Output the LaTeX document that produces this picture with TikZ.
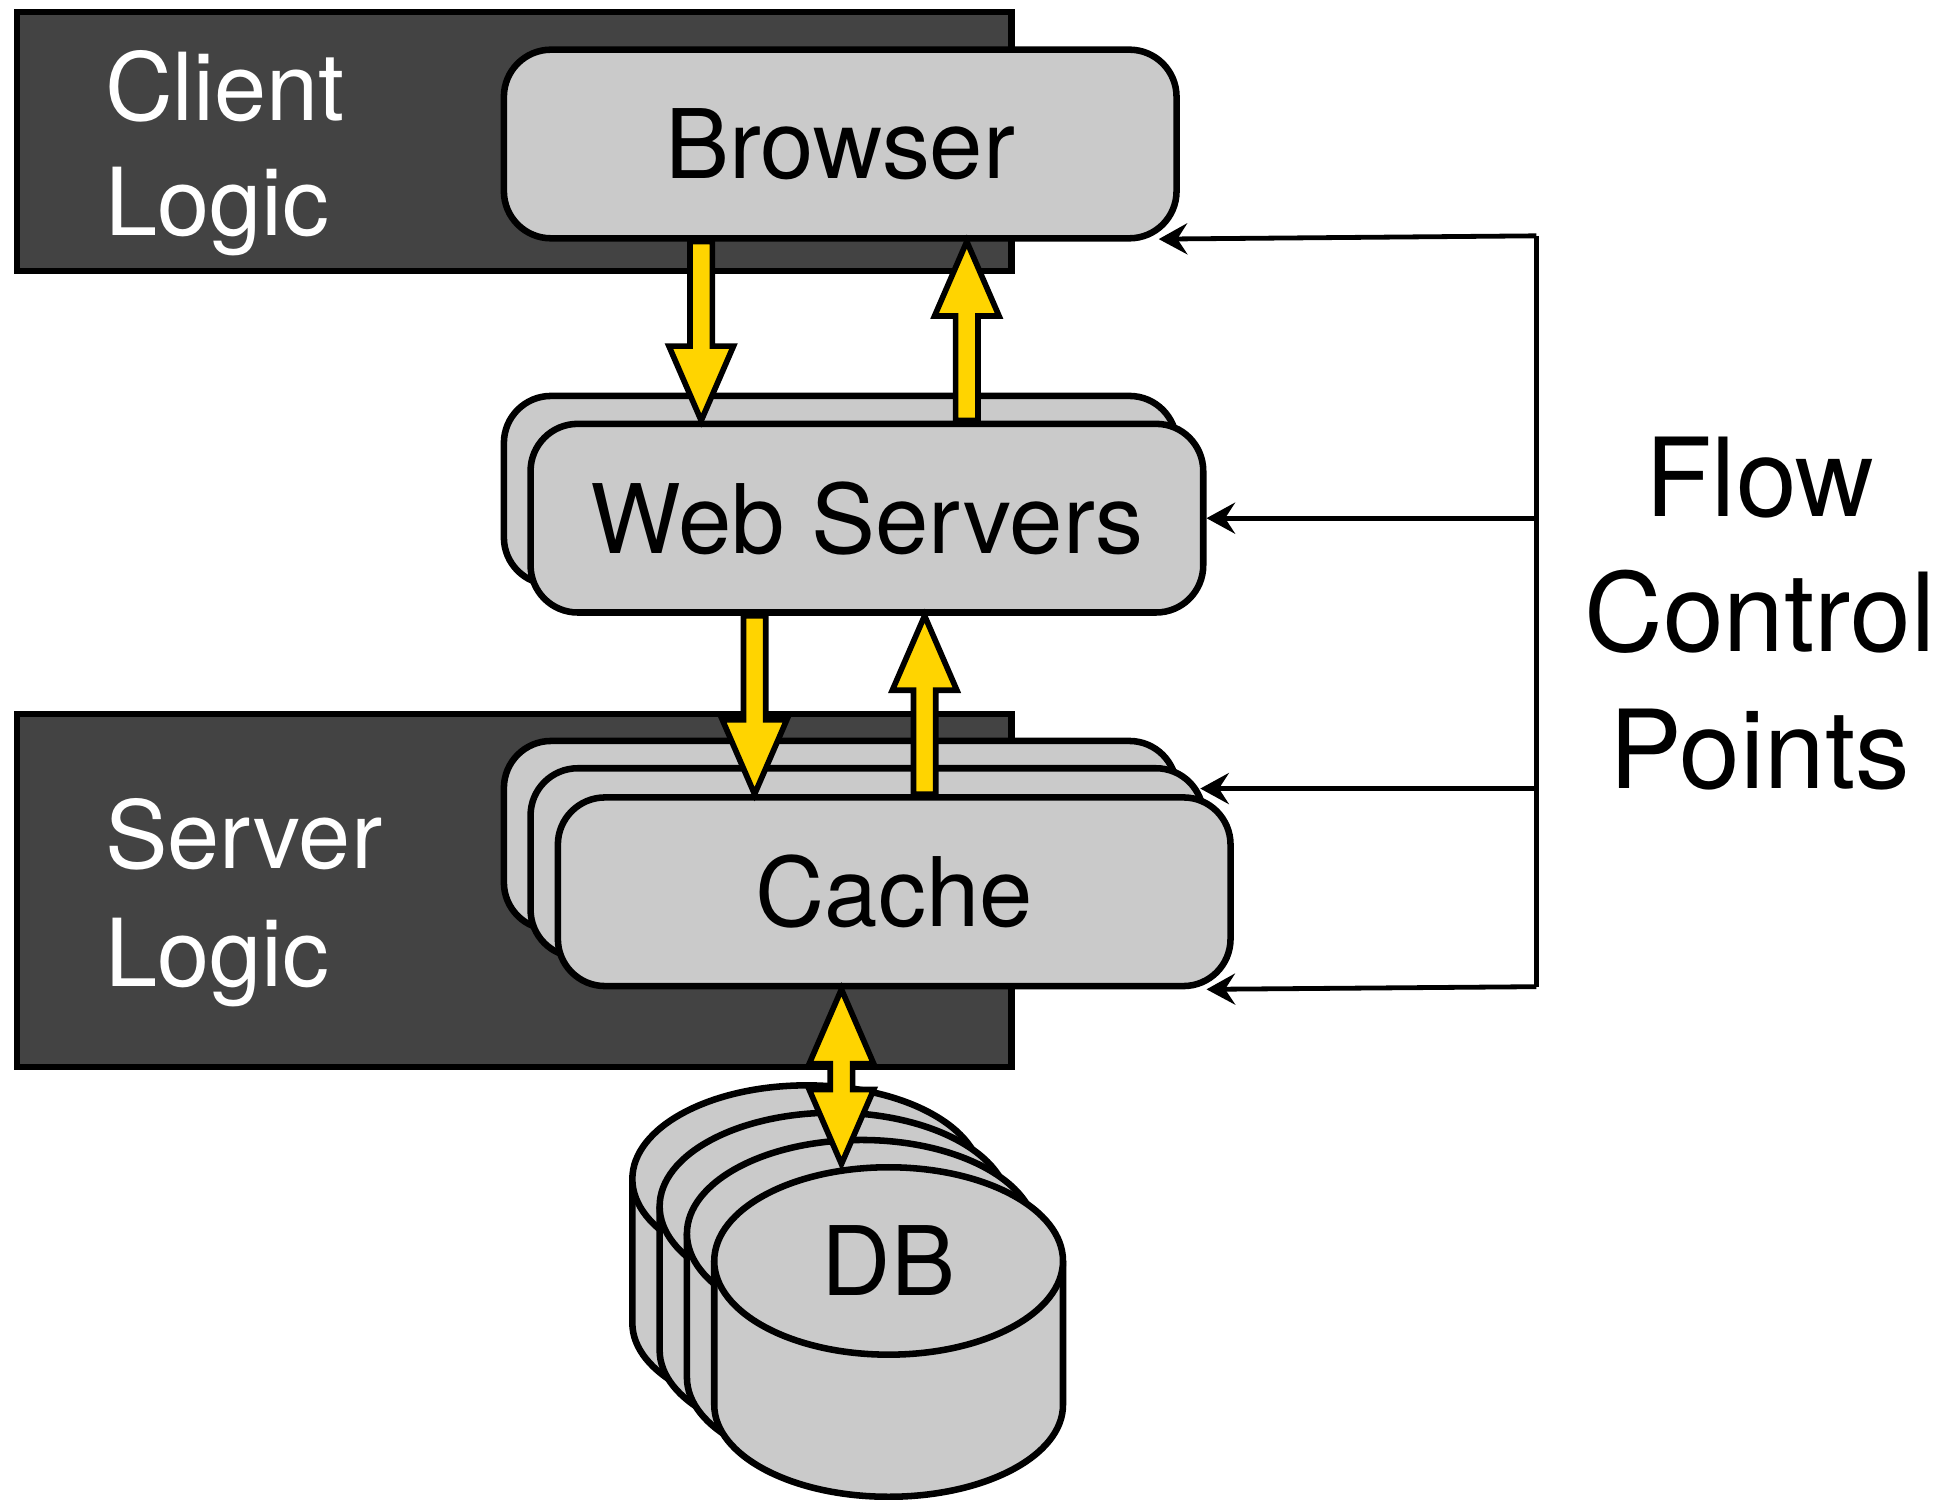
\documentclass[tikz,border=0pt]{standalone}
\usepackage{fontspec}
\setmainfont{TeX Gyre Heros}
\usetikzlibrary{calc,arrows.meta,shapes.geometric}

\definecolor{panelgray}{HTML}{434343}
\definecolor{tiergray}{HTML}{CACACA}
\definecolor{flowyellow}{HTML}{FFD400}

\tikzset{
  panel/.style={draw=black, line width=1.4pt, fill=panelgray},
  paneltext/.style={text=white, font=\fontsize{21.5}{26}\selectfont, anchor=base west, inner sep=0pt},
  tier/.style={rectangle, rounded corners=0.38cm, draw=black, line width=1.5pt, fill=tiergray,
    minimum width=5.42cm, minimum height=1.52cm, inner sep=0pt, font=\fontsize{22}{26}\selectfont},
  dbtop/.style={ellipse, draw=black, line width=1.5pt, fill=tiergray,
    minimum width=2.81cm, minimum height=1.51cm, inner sep=0pt, font=\fontsize{22}{26}\selectfont},
  dbside/.style={draw=black, line width=1.5pt, fill=tiergray},
  flowtext/.style={font=\fontsize{25}{30}\selectfont, anchor=base, inner sep=0pt},
  ctrl/.style={line width=1.1pt, -{Stealth[length=2.3mm, width=2.5mm, inset=0.8mm]}},
  fat/.style={draw=black, line width=1.3pt, fill=flowyellow, line join=miter},
}

% yellow block arrow from #1 to the tip #2
\newcommand{\fatarrow}[2]{%
  \coordinate (hb) at ($(#2)!0.6cm!(#1)$);
  \draw[fat] ($(#1)!0.09cm!90:(#2)$) -- ($(hb)!0.09cm!90:(#2)$) -- ($(hb)!0.26cm!90:(#2)$)
    -- (#2) -- ($(hb)!0.26cm!-90:(#2)$) -- ($(hb)!0.09cm!-90:(#2)$)
    -- ($(#1)!0.09cm!-90:(#2)$) -- cycle;}
% same with a head at both ends
\newcommand{\fatarrowboth}[2]{%
  \coordinate (ha) at ($(#1)!0.6cm!(#2)$);
  \coordinate (hb) at ($(#2)!0.6cm!(#1)$);
  \draw[fat] (#1) -- ($(ha)!0.26cm!90:(#2)$) -- ($(ha)!0.09cm!90:(#2)$)
    -- ($(hb)!0.09cm!90:(#2)$) -- ($(hb)!0.26cm!90:(#2)$) -- (#2)
    -- ($(hb)!0.26cm!-90:(#2)$) -- ($(hb)!0.09cm!-90:(#2)$)
    -- ($(ha)!0.09cm!-90:(#2)$) -- ($(ha)!0.26cm!-90:(#2)$) -- cycle;}

\begin{document}
\begin{tikzpicture}
      \useasboundingbox (0,0) rectangle (15.68,-12.08);

      % client and server panels
      \draw[panel] (0.14,-0.10) rectangle (8.15,-2.18);
      \draw[panel] (0.14,-5.75) rectangle (8.15,-8.60);
      \node[paneltext] (clientword) at (0.84,-0.97) {Client};
      \node[paneltext] (clientlogic) at (0.84,-1.90) {Logic};
      \node[paneltext] (serverword) at (0.84,-7.00) {Server};
      \node[paneltext] (serverlogic) at (0.84,-7.95) {Logic};

      % tiers
      \node[tier] (browser) at (6.77,-1.16) {Browser};
      \node[tier] (webback) at (6.77,-3.95) {};
      \node[tier] (web) at (6.985,-4.175) {Web Servers};
      \node[tier] (cacheback) at (6.77,-6.73) {};
      \node[tier] (cachemid) at (6.985,-6.95) {};
      \node[tier] (cache) at (7.205,-7.185) {Cache};

      % database stack, back to front
      \filldraw[dbside] (5.095,-9.50) -- ++(0,-1.16) arc[start angle=180, end angle=360, x radius=1.405, y radius=0.74] -- ++(0,1.16);
      \node[dbtop] (db4) at (6.50,-9.50) {};
      \filldraw[dbside] (5.315,-9.72) -- ++(0,-1.16) arc[start angle=180, end angle=360, x radius=1.405, y radius=0.74] -- ++(0,1.16);
      \node[dbtop] (db3) at (6.72,-9.72) {};
      \filldraw[dbside] (5.535,-9.94) -- ++(0,-1.16) arc[start angle=180, end angle=360, x radius=1.405, y radius=0.74] -- ++(0,1.16);
      \node[dbtop] (db2) at (6.94,-9.94) {};
      \filldraw[dbside] (5.755,-10.16) -- ++(0,-1.16) arc[start angle=180, end angle=360, x radius=1.405, y radius=0.74] -- ++(0,1.16);
      \node[dbtop] (db) at (7.16,-10.16) {DB};

      % flow control points
      \coordinate (bustop) at (12.38,-1.90);
      \coordinate (busbottom) at (12.38,-7.95);
      \coordinate (browsertap) at ([xshift=-0.17cm,yshift=0.02cm]browser.south east);
      \coordinate (cachetap) at ([xshift=-0.05cm,yshift=-0.19cm]cachemid.north east);
      \coordinate (cachelow) at ([xshift=-0.22cm]cache.south east);
      \draw[line width=1.1pt] (bustop) -- (busbottom);
      \draw[ctrl] (bustop) -- (browsertap);
      \draw[ctrl] (web.east -| bustop) -- (web.east);
      \draw[ctrl] (cachetap -| bustop) -- (cachetap);
      \draw[ctrl] (busbottom) -- (cachelow);
      \node[flowtext] (flow) at (14.18,-4.16) {Flow};
      \node[flowtext] (control) at (14.18,-5.25) {Control};
      \node[flowtext] (points) at (14.18,-6.35) {Points};

      % request and response arrows
      \coordinate (req1) at (browser.south -| 5.65,0);
      \coordinate (req1tip) at (web.north -| 5.65,0);
      \coordinate (res1) at (web.north -| 7.79,0);
      \coordinate (res1tip) at (browser.south -| 7.79,0);
      \coordinate (req2) at (web.south -| 6.08,0);
      \coordinate (req2tip) at (cache.north -| 6.08,0);
      \coordinate (res2) at (cache.north -| 7.45,0);
      \coordinate (res2tip) at (web.south -| 7.45,0);
      \coordinate (dbup) at (cache.south -| 6.78,0);
      \coordinate (dbdown) at (db.north -| 6.78,0);
      \fatarrow{req1}{req1tip}
      \fatarrow{res1}{res1tip}
      \fatarrow{req2}{req2tip}
      \fatarrow{res2}{res2tip}
      \fatarrowboth{dbup}{dbdown}
\end{tikzpicture}
\end{document}
